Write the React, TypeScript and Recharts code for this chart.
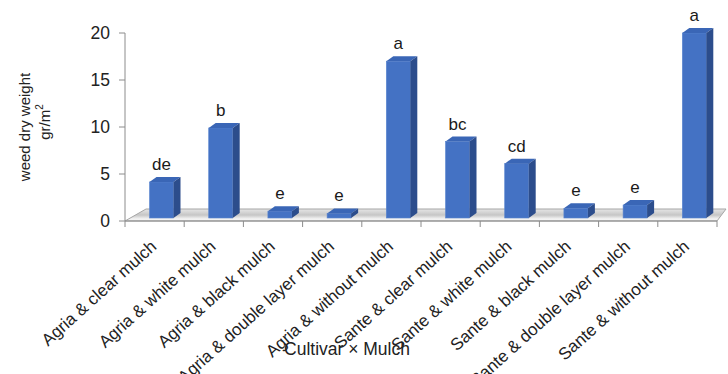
import React from 'react';
import { BarChart, Bar, XAxis, YAxis, LabelList } from 'recharts';

const categories = [
  'Agria & clear mulch',
  'Agria & white mulch',
  'Agria & black mulch',
  'Agria & double layer mulch',
  'Agria & without mulch',
  'Sante & clear mulch',
  'Sante & white mulch',
  'Sante & black mulch',
  'Sante & double layer mulch',
  'Sante & without mulch',
];
const dryWeight = [4.15, 9.9, 1.05, 0.8, 17.0, 8.45, 6.1, 1.35, 1.7, 20.0];
const groups = ['de', 'b', 'e', 'e', 'a', 'bc', 'cd', 'e', 'e', 'a'];
const yTicks = [0, 5, 10, 15, 20];

const data = categories.map((name, i) => ({ name, weight: dryWeight[i], group: groups[i] }));

// plot geometry
const W = 728;
const H = 374;
const LEFT = 125;
const RIGHT = 717;
const TOP = 33;
const BOTTOM = 221;
const BAND = (RIGHT - LEFT) / categories.length;

// 3d look
const DX = 7;
const DY = 5;
const FACE_SHIFT = 6.5;
const BASE_Y = 218;

const FONT = '"Liberation Sans", Arial, sans-serif';
const AXIS = '#8c8c8c';

const Floor = () => (
  <g>
    <defs>
      <linearGradient id="floorFill" x1="0" y1="0" x2="0" y2="1">
        <stop offset="0%" stopColor="#e6e6e6" />
        <stop offset="50%" stopColor="#c6c6c6" />
        <stop offset="85%" stopColor="#f7f7f7" />
        <stop offset="100%" stopColor="#dcdcdc" />
      </linearGradient>
    </defs>
    <polygon
      points={`${LEFT},${BOTTOM} ${LEFT + 21},${BOTTOM - 12} ${RIGHT + 9},${BOTTOM - 12} ${RIGHT},${BOTTOM}`}
      fill="url(#floorFill)"
      stroke="#a6a6a6"
      strokeWidth={1}
    />
  </g>
);

const Column = (props: any) => {
  const { x, y, width, index } = props;
  const fx = x + FACE_SHIFT;
  const rx = fx + width;
  return (
    <g>
      {index === 0 && <Floor />}
      <rect x={fx} y={y} width={width} height={BASE_Y - y} fill="#4472c4" stroke="#5a85d0" strokeWidth={0.6} />
      <polygon
        points={`${fx},${y} ${fx + DX},${y - DY} ${rx + DX},${y - DY} ${rx},${y}`}
        fill="#3a66b6"
      />
      <polygon
        points={`${rx},${y} ${rx + DX},${y - DY} ${rx + DX},${BASE_Y - DY} ${rx},${BASE_Y}`}
        fill="#2c4d8c"
      />
    </g>
  );
};

const GroupLabel = (props: any) => {
  const { x, y, width, value } = props;
  return (
    <text
      x={x + FACE_SHIFT + width / 2}
      y={y - 12}
      textAnchor="middle"
      fontFamily={FONT}
      fontSize={17}
      fill="#1a1a1a"
    >
      {value}
    </text>
  );
};

const CategoryTick = (props: any) => {
  const { x, payload, index } = props;
  const ax = x + 3;
  const ay = 248;
  return (
    <g>
      <line x1={x - BAND / 2} y1={BOTTOM} x2={x - BAND / 2} y2={BOTTOM + 6} stroke={AXIS} />
      {index === categories.length - 1 && (
        <line x1={x + BAND / 2} y1={BOTTOM} x2={x + BAND / 2} y2={BOTTOM + 6} stroke={AXIS} />
      )}
      <text
        x={ax}
        y={ay}
        textAnchor="end"
        transform={`rotate(-42, ${ax}, ${ay})`}
        fontFamily={FONT}
        fontSize={17}
        fill="#222"
      >
        {payload.value}
      </text>
    </g>
  );
};

export default function App() {
  return (
    <div style={{ position: 'absolute', left: 0, top: 0, width: W, height: H, background: '#fff' }}>
      <BarChart
        width={W}
        height={H}
        data={data}
        margin={{ top: TOP, right: W - RIGHT, bottom: 0, left: 0 }}
        barSize={24}
      >
        <XAxis
          dataKey="name"
          interval={0}
          height={H - BOTTOM}
          tickLine={false}
          axisLine={{ stroke: AXIS }}
          tick={<CategoryTick />}
        />
        <YAxis
          width={LEFT}
          domain={[0, 20]}
          ticks={yTicks}
          tickSize={6}
          tickMargin={9}
          axisLine={{ stroke: AXIS }}
          tickLine={{ stroke: AXIS }}
          tick={{ fontFamily: FONT, fontSize: 17.5, fill: '#222' }}
        />
        <Bar dataKey="weight" shape={<Column />} isAnimationActive={false}>
          <LabelList dataKey="group" content={<GroupLabel />} />
        </Bar>
        <text x={24} y={127} transform="rotate(-90, 24, 127)" textAnchor="middle" dominantBaseline="central" fontFamily={FONT} fontSize={15} fill="#222">
          weed dry weight
        </text>
        <text x={44} y={122} transform="rotate(-90, 44, 122)" textAnchor="middle" dominantBaseline="central" fontFamily={FONT} fontSize={15} fill="#222">
          gr/m<tspan fontSize={10} dy={-5}>2</tspan>
        </text>
        <text x={347} y={355} textAnchor="middle" fontFamily={FONT} fontSize={17.5} fill="#222">
          Cultivar × Mulch
        </text>
      </BarChart>
    </div>
  );
}
